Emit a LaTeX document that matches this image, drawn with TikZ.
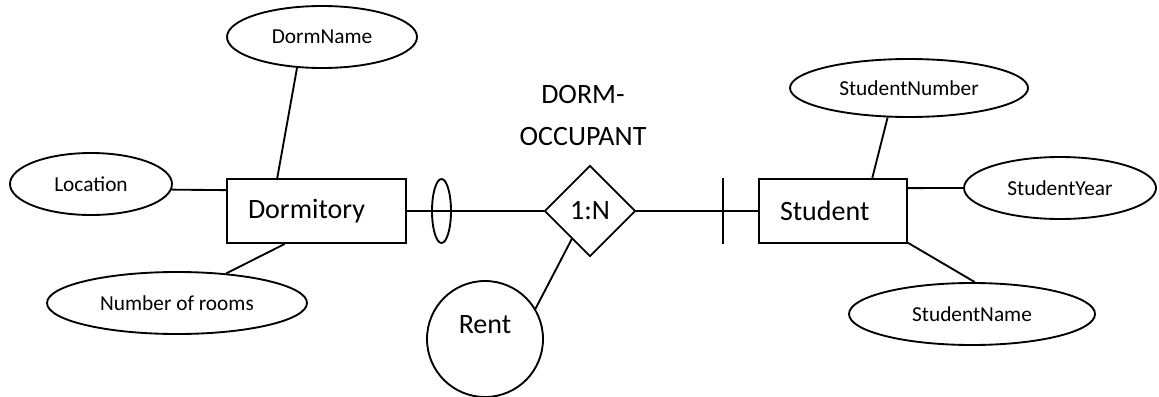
\documentclass[tikz,border=0pt]{standalone}
\usepackage{fontspec}
\setmainfont{Carlito}
\usetikzlibrary{shapes.geometric}

\begin{document}
\begin{tikzpicture}[x=0.75pt,y=-0.75pt,line width=1.4pt,
    attr/.style={draw,ellipse,inner sep=0pt,minimum height=46.5pt,font=\fontsize{16}{19}\selectfont},
    entity/.style={draw,rectangle,minimum height=48pt,inner xsep=15.75pt,align=left,font=\fontsize{21}{25}\selectfont},
    rel/.style={draw,diamond,aspect=1,inner sep=0pt,minimum width=68.25pt,minimum height=68.25pt,font=\fontsize{21}{25}\selectfont}]
      \useasboundingbox (0,0) rectangle (1159,396);

      % entities
      \node[entity,text width=102.75pt] (dorm) at (316.5,211) {Dormitory};
      \node[entity,text width=79.5pt] (student) at (833,211) {Student};

      % attributes of Dormitory
      \node[attr,minimum width=142.5pt] (dormname) at (322,37) {DormName};
      \node[attr,minimum width=121.5pt] (location) at (91,184) {Location};
      \node[attr,minimum width=195pt] (rooms) at (177,303) {Number of rooms};

      % attributes of Student
      \node[attr,minimum width=178.5pt,minimum height=43.5pt] (studnumber) at (909,88) {StudentNumber};
      \node[attr,minimum width=144pt] (studyear) at (1060,188) {StudentYear};
      \node[attr,minimum width=184.5pt] (studname) at (972,314) {StudentName};

      % relationship
      \node[rel] (occupant) at (590,211) {1:N};
      \node[align=center,font=\fontsize{21}{31.5}\selectfont] (occname) at (583,116) {DORM-\\OCCUPANT};
      \node[draw,circle,minimum size=87pt,inner sep=0pt] (rent) at (485,339) {};
      \node[font=\fontsize{21}{25}\selectfont] (renttext) at (485,325) {Rent};

      % cardinality marks
      \node[draw,ellipse,minimum width=14.25pt,minimum height=48pt,inner sep=0pt] (dormopt) at (441.5,211) {};
      \node[inner sep=0pt,minimum height=48pt,minimum width=0pt] (studtick) at (723,211) {};

      \draw (dormname.231) -- (dorm.140);
      \draw (location.-4) -- (dorm.167);
      \draw (rooms.31) -- (dorm.226);
      \draw (studnumber.234) -- (student.40);
      \draw (studyear.180) -- (student.17);
      \draw (studname.85) -- (student.-23);

      \draw (dorm.east) -- (occupant.west);
      \draw (occupant.east) -- (student.west);
      \draw (occupant.237) -- (rent.31);
      \draw (studtick.north) -- (studtick.south);
\end{tikzpicture}
\end{document}
